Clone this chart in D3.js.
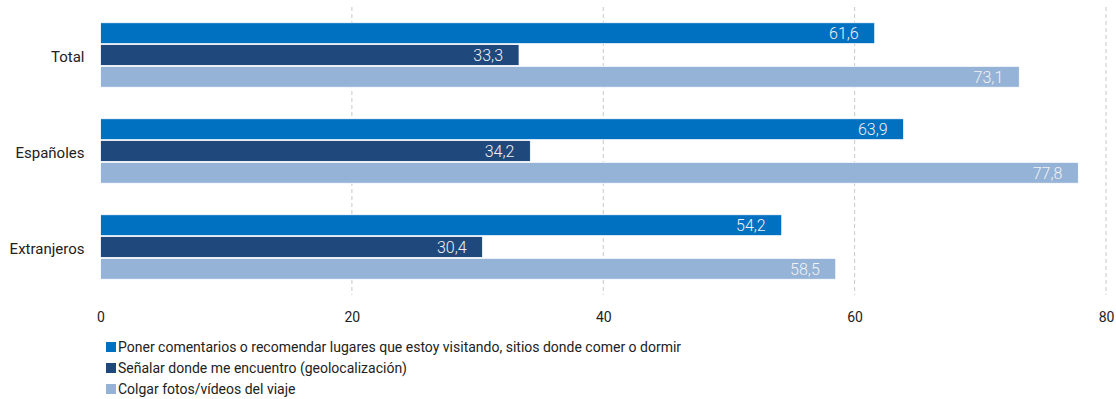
<!DOCTYPE html>
<html>
<head>
<meta charset="utf-8">
<script src="https://cdn.jsdelivr.net/npm/d3@7"></script>
<style>
  html, body { margin: 0; padding: 0; background: #fff; }
  svg { display: block; }
  text { font-family: Roboto, "Liberation Sans", sans-serif; }
</style>
</head>
<body>
<svg id="chart" width="1116" height="399"></svg>
<script>
// Groups shown on the vertical axis
const categories = ["Total", "Españoles", "Extranjeros"];

// Series names (legend order)
const seriesNames = [
  "Poner comentarios o recomendar lugares que estoy visitando, sitios donde comer o dormir",
  "Señalar donde me encuentro (geolocalización)",
  "Colgar fotos/vídeos del viaje"
];

// Percentages per series, one value per category
const comentarios = [61.6, 63.9, 54.2];
const geolocalizacion = [33.3, 34.2, 30.4];
const fotosVideos = [73.1, 77.8, 58.5];

const xTicks = [0, 20, 40, 60, 80];

const seriesValues = [comentarios, geolocalizacion, fotosVideos];
const colors = ["#0070C0", "#1F497D", "#95B3D7"];

const svg = d3.select("#chart");
const plotLeft = 100.5, plotRight = 1106, plotTop = 7, plotBottom = 295;

const x = d3.scaleLinear().domain([0, 80]).range([plotLeft, plotRight]);
const y0 = d3.scaleBand().domain(categories).range([plotTop, plotBottom]).paddingInner(0.31).paddingOuter(0.155);
const y1 = d3.scaleBand().domain(d3.range(seriesNames.length)).range([0, y0.bandwidth()]).padding(0.04);

// Dashed vertical gridlines
svg.append("g")
  .selectAll("line")
  .data(xTicks.filter(t => t > 0))
  .join("line")
  .attr("x1", d => x(d)).attr("x2", d => x(d))
  .attr("y1", plotTop).attr("y2", plotBottom)
  .attr("stroke", "#c8c8c8")
  .attr("stroke-width", 1)
  .attr("stroke-dasharray", "4,3");

// Bars
const rows = [];
categories.forEach((c, ci) => {
  seriesValues.forEach((vals, si) => rows.push({ cat: c, s: si, v: vals[ci] }));
});

svg.append("g")
  .selectAll("rect")
  .data(rows)
  .join("rect")
  .attr("x", x(0))
  .attr("y", d => y0(d.cat) + y1(d.s))
  .attr("width", d => x(d.v) - x(0))
  .attr("height", y1.bandwidth())
  .attr("fill", d => colors[d.s])
  .attr("stroke", "#fff")
  .attr("stroke-width", 0.8);

// Value labels inside bar ends
svg.append("g")
  .selectAll("text")
  .data(rows)
  .join("text")
  .attr("x", d => x(d.v) - 16)
  .attr("y", d => y0(d.cat) + y1(d.s) + y1.bandwidth() / 2)
  .attr("dy", "0.38em")
  .attr("text-anchor", "end")
  .attr("fill", "#f2f2f2")
  .attr("font-size", 16)
  .attr("font-weight", 300)
  .text(d => d3.format(".1f")(d.v).replace(".", ","));

// Category axis labels
const yAxis = d3.axisLeft(y0).tickSize(0).tickPadding(16);
const gy = svg.append("g").attr("transform", `translate(${plotLeft},2)`).call(yAxis);
gy.select(".domain").remove();
gy.selectAll("text").attr("font-size", 15).attr("fill", "#222")
  .style("font-family", "Roboto, sans-serif");

// Value axis
const xAxis = d3.axisBottom(x).tickValues(xTicks).tickSize(0).tickPadding(17).tickFormat(d3.format("d"));
const gx = svg.append("g").attr("transform", `translate(0,${plotBottom})`).call(xAxis);
gx.select(".domain").remove();
gx.selectAll("text").attr("font-size", 14).attr("fill", "#222")
  .style("font-family", "Roboto, sans-serif");

// Legend
const legend = svg.append("g").attr("transform", "translate(106,342)");
const item = legend.selectAll("g")
  .data(seriesNames)
  .join("g")
  .attr("transform", (d, i) => `translate(0,${i * 21})`);
item.append("rect")
  .attr("width", 10).attr("height", 10)
  .attr("fill", (d, i) => colors[i]);
item.append("text")
  .attr("x", 12).attr("y", 5).attr("dy", "0.36em")
  .attr("font-size", 14).attr("fill", "#222")
  .text(d => d);
</script>
</body>
</html>
